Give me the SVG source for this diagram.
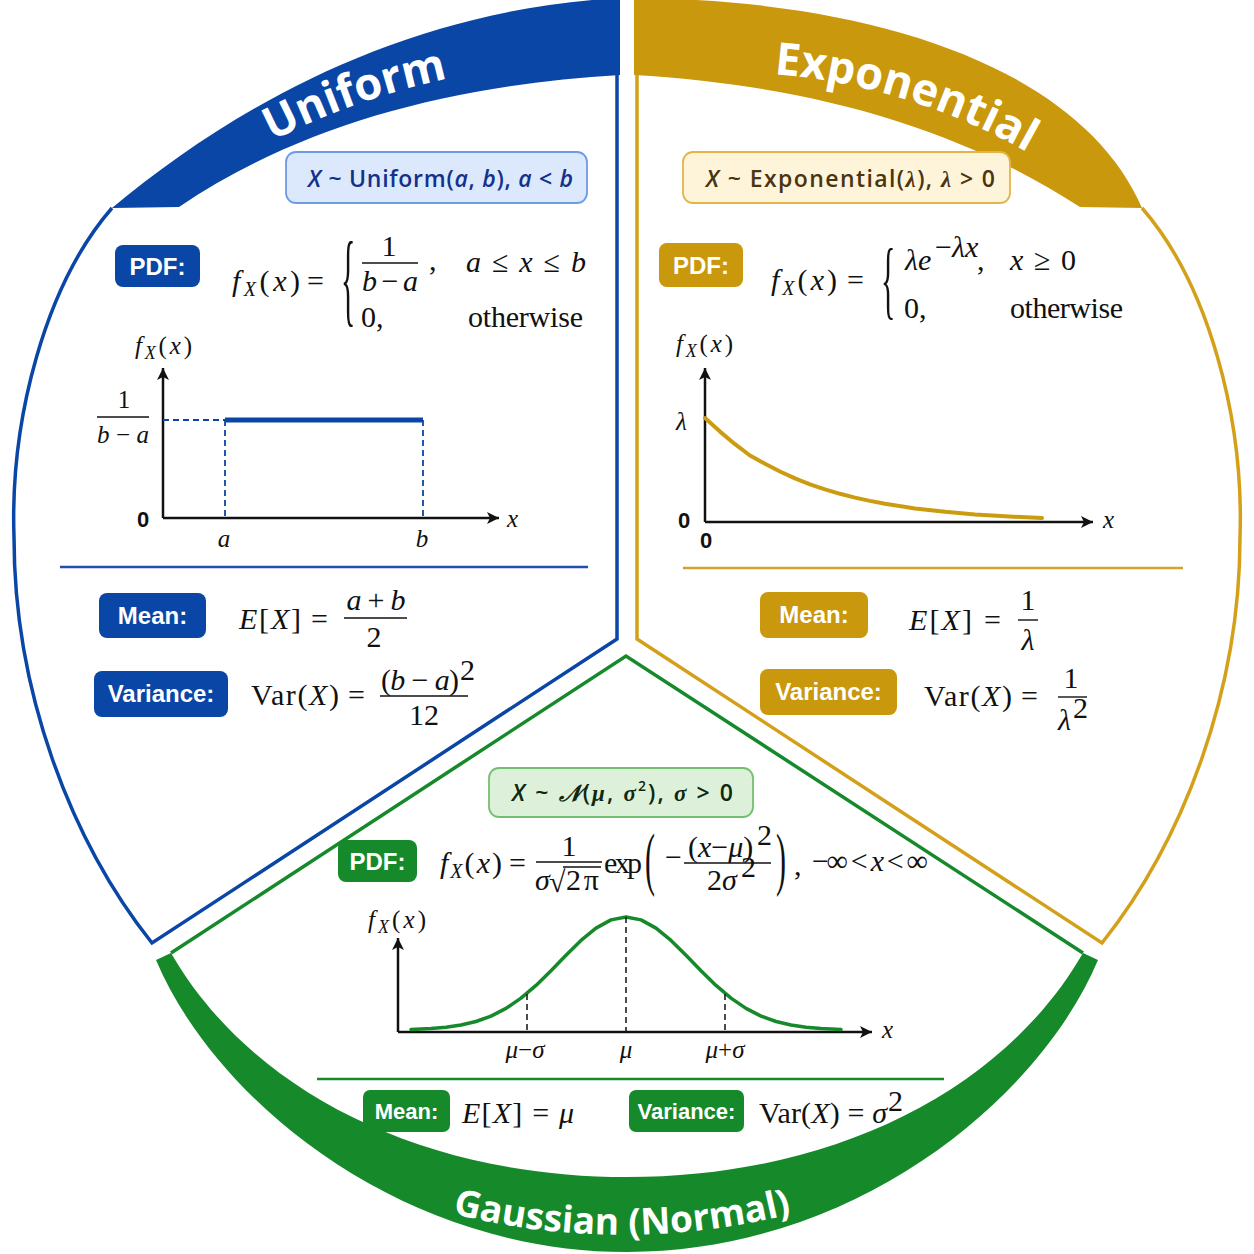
<svg xmlns="http://www.w3.org/2000/svg" width="1254" height="1254" viewBox="0 0 1254 1254">
<style>
.m{font-family:"Liberation Serif","DejaVu Serif",serif;font-size:30px;fill:#111}
.ms{font-family:"Liberation Serif","DejaVu Serif",serif;font-size:25px;fill:#111}
.i{font-style:italic}
.c{text-anchor:middle}
.lbl{font-family:"Liberation Sans",Arial,sans-serif;font-weight:bold;font-size:24px;fill:#fff;text-anchor:middle}
.lbl2{font-family:"Liberation Sans",Arial,sans-serif;font-weight:bold;font-size:22px;fill:#fff;text-anchor:middle}
.zero{font-family:"Liberation Sans",Arial,sans-serif;font-weight:bold;font-size:22px;fill:#111;text-anchor:middle}
.hdr{font-family:"Open Sans","Liberation Sans",sans-serif;font-weight:600;font-size:23px}
.title{font-family:"Open Sans","Liberation Sans",sans-serif;font-weight:700;fill:#fff;text-anchor:middle}
.ax{stroke:#111;stroke-width:2.5;fill:none;marker-end:url(#arr)}
.bar{stroke:#111;stroke-width:1.4}
.dash{stroke-dasharray:6 4;fill:none}
</style>
<defs>
<marker id="arr" viewBox="0 0 10 10" refX="10" refY="5" markerWidth="15" markerHeight="12" markerUnits="userSpaceOnUse" orient="auto">
<path d="M0,0 L10,5 L0,10 L2.5,5 Z" fill="#111"/>
</marker>
<path id="arcU" d="M 196.3 186.5 A 696 696 0 0 1 535.6 66.0"/>
<path id="arcE" d="M 736.3 72.1 A 614 614 0 0 1 1059.8 172.0"/>
<path id="arcG" d="M 384.7 1192.9 A 693.7 693.7 0 0 0 859.3 1192.9"/>
</defs>
<rect width="1254" height="1254" fill="#fff"/>

<!-- Uniform -->
<g id="uniform">
<path d="M 112 208 C 230 110, 400 10, 620 -2 L 620 75 C 450 85, 300 125, 179 207 Z" fill="#0A46A5"/>
<path d="M 112 208 C 45 285, 10 420, 14 537 C 14 690, 70 840, 152 943 L 617 639 L 617 75" fill="none" stroke="#0A46A5" stroke-width="3.5"/>
<text class="title" font-size="45"><textPath href="#arcU" startOffset="50%">Uniform</textPath></text>
<rect x="286" y="152" width="301" height="51" rx="10" fill="#DCE8FB" stroke="#6E9BE6" stroke-width="1.8"/>
<text class="hdr" x="308" y="187" fill="#13318C" textLength="265"><tspan font-style="italic">X</tspan> ~ Uniform(<tspan font-style="italic">a</tspan>, <tspan font-style="italic">b</tspan>), <tspan font-style="italic">a</tspan> &lt; <tspan font-style="italic">b</tspan></text>
<rect x="115" y="245" width="85" height="42" rx="8" fill="#0A46A5"/>
<text class="lbl" x="157.5" y="275">PDF:</text>
<text class="m" x="232" y="291" textLength="68"><tspan class="i">f</tspan><tspan class="i" font-size="20" dy="5">X</tspan><tspan dy="-5">(</tspan><tspan class="i">x</tspan>)</text>
<text class="m" x="307" y="291">=</text>
<text class="m" transform="translate(341,281.5) scale(1,3.45)" x="0" y="9" font-size="36">{</text>
<text class="m c" x="389" y="256">1</text>
<line class="bar" x1="362" y1="263" x2="418" y2="263"/>
<text class="m c" x="390" y="291" textLength="56"><tspan class="i">b</tspan> − <tspan class="i">a</tspan></text>
<text class="m" x="429" y="270">,</text>
<text class="m" x="466" y="272" textLength="120"><tspan class="i">a</tspan> ≤ <tspan class="i">x</tspan> ≤ <tspan class="i">b</tspan></text>
<text class="m" x="361" y="327">0,</text>
<text class="m" x="468" y="327" textLength="115">otherwise</text>
<text class="ms" x="135" y="354" textLength="57"><tspan class="i">f</tspan><tspan class="i" font-size="18" dy="5">X</tspan><tspan dy="-5">(</tspan><tspan class="i">x</tspan>)</text>
<line class="ax" x1="163" y1="518" x2="163" y2="368"/>
<line class="ax" x1="163" y1="518" x2="499" y2="518"/>
<text class="ms c" x="124" y="408">1</text>
<line class="bar" x1="97" y1="417" x2="149" y2="417"/>
<text class="ms c" x="123" y="443" textLength="52"><tspan class="i">b</tspan> − <tspan class="i">a</tspan></text>
<text class="zero" x="143" y="527">0</text>
<line class="dash" x1="163" y1="420" x2="225" y2="420" stroke="#0A46A5" stroke-width="1.8"/>
<line x1="225" y1="420" x2="423" y2="420" stroke="#0A46A5" stroke-width="5"/>
<line class="dash" x1="225" y1="420" x2="225" y2="518" stroke="#0A46A5" stroke-width="1.8"/>
<line class="dash" x1="423" y1="420" x2="423" y2="518" stroke="#0A46A5" stroke-width="1.8"/>
<text class="ms i c" x="224" y="547">a</text>
<text class="ms i c" x="422" y="547">b</text>
<text class="ms i" x="507" y="527">x</text>
<line x1="60" y1="567" x2="588" y2="567" stroke="#1F4FB0" stroke-width="2.5"/>
<rect x="99" y="593" width="107" height="45" rx="8" fill="#0A46A5"/>
<text class="lbl" x="152.5" y="624">Mean:</text>
<text class="m" x="239" y="629" textLength="62"><tspan class="i">E</tspan>[<tspan class="i">X</tspan>]</text>
<text class="m" x="311" y="629">=</text>
<text class="m c" x="376" y="610" textLength="59"><tspan class="i">a</tspan> + <tspan class="i">b</tspan></text>
<line class="bar" x1="344" y1="618" x2="407" y2="618"/>
<text class="m c" x="374" y="647">2</text>
<rect x="94" y="671" width="134" height="46" rx="8" fill="#0A46A5"/>
<text class="lbl" x="161" y="702">Variance:</text>
<text class="m" x="251" y="705" textLength="88">Var(<tspan class="i">X</tspan>)</text>
<text class="m" x="348" y="705">=</text>
<text class="m" x="381" y="690" textLength="78">(<tspan class="i">b</tspan> − <tspan class="i">a</tspan>)</text>
<text class="m" x="460" y="680" font-size="16">2</text>
<line class="bar" x1="380" y1="696" x2="468" y2="696"/>
<text class="m c" x="424" y="725">12</text>
</g>

<!-- Exponential -->
<g id="exponential">
<path d="M 1142 208 C 1085 75, 890 0, 634 -2 L 634 75 C 804 85, 954 125, 1080 207 Z" fill="#C9980C"/>
<path d="M 1142 208 C 1209 285, 1244 420, 1240 537 C 1240 690, 1184 840, 1102 943 L 637 639 L 637 75" fill="none" stroke="#D4A01A" stroke-width="3.5"/>
<text class="title" font-size="45"><textPath href="#arcE" startOffset="50%">Exponential</textPath></text>
<rect x="683" y="152" width="327" height="51" rx="10" fill="#FEF4DA" stroke="#E3B546" stroke-width="1.8"/>
<text class="hdr" x="706" y="187" fill="#4B3410" textLength="289"><tspan font-style="italic">X</tspan> ~ Exponential(<tspan font-family="Liberation Serif" font-style="italic">λ</tspan>),  <tspan font-family="Liberation Serif" font-style="italic">λ</tspan> &gt; 0</text>
<rect x="659" y="243" width="84" height="44" rx="8" fill="#C9980C"/>
<text class="lbl" x="701" y="274">PDF:</text>
<text class="m" x="771" y="290" textLength="66"><tspan class="i">f</tspan><tspan class="i" font-size="20" dy="5">X</tspan><tspan dy="-5">(</tspan><tspan class="i">x</tspan>)</text>
<text class="m" x="847" y="290">=</text>
<text class="m" transform="translate(881,282.5) scale(1,2.87)" x="0" y="9" font-size="36">{</text>
<text class="m i" x="905" y="270">λe</text>
<text class="m" x="935" y="257" font-size="18">−<tspan class="i">λx</tspan></text>
<text class="m" x="977" y="270">,</text>
<text class="m" x="1010" y="270" textLength="66"><tspan class="i">x</tspan> ≥ 0</text>
<text class="m" x="904" y="318">0,</text>
<text class="m" x="1010" y="318" textLength="113">otherwise</text>
<text class="ms" x="676" y="352" textLength="57"><tspan class="i">f</tspan><tspan class="i" font-size="18" dy="5">X</tspan><tspan dy="-5">(</tspan><tspan class="i">x</tspan>)</text>
<line class="ax" x1="705" y1="522" x2="705" y2="368"/>
<line class="ax" x1="705" y1="522" x2="1093" y2="522"/>
<text class="ms i" x="676" y="430">λ</text>
<text class="zero" x="684" y="528">0</text>
<text class="zero" x="706" y="548">0</text>
<text class="ms i" x="1103" y="528">x</text>
<path d="M705,418 L720,431.6 L735,444.2 L750,455.5 L765,463.8 L780,471.5 L795,478.4 L810,484.3 L825,489.4 L840,493.8 L855,497.6 L870,500.9 L885,503.8 L915,508.4 L945,511.8 L975,514.4 L1005,516.3 L1042,518" fill="none" stroke="#CC9C10" stroke-width="4" stroke-linejoin="round" stroke-linecap="round"/>
<line x1="683" y1="568" x2="1183" y2="568" stroke="#D4A32A" stroke-width="2.5"/>
<rect x="760" y="592" width="108" height="46" rx="8" fill="#C9980C"/>
<text class="lbl" x="814" y="623">Mean:</text>
<text class="m" x="909" y="630" textLength="63"><tspan class="i">E</tspan>[<tspan class="i">X</tspan>]</text>
<text class="m" x="984" y="630">=</text>
<text class="m c" x="1028" y="610">1</text>
<line class="bar" x1="1018" y1="620" x2="1038" y2="620"/>
<text class="m i c" x="1028" y="650">λ</text>
<rect x="760" y="669" width="137" height="46" rx="8" fill="#C9980C"/>
<text class="lbl" x="828.5" y="700">Variance:</text>
<text class="m" x="924" y="706" textLength="88">Var(<tspan class="i">X</tspan>)</text>
<text class="m" x="1021" y="706">=</text>
<text class="m c" x="1071" y="688">1</text>
<line class="bar" x1="1058" y1="697" x2="1087" y2="697"/>
<text class="m i" x="1058" y="730">λ</text>
<text class="m" x="1073" y="718" font-size="16">2</text>
</g>

<!-- Gaussian -->
<g id="gaussian">
<path d="M 156 960 C 215 1100, 400 1252, 627 1252 C 854 1252, 1039 1100, 1098 960 L 1083 953 C 1004 1090, 834 1177, 627 1177 C 420 1177, 250 1090, 171 953 Z" fill="#168A2A"/>
<path d="M 171 953 L 626 656 L 1083 953" fill="none" stroke="#168A2A" stroke-width="3.5"/>
<text class="title" font-size="37"><textPath href="#arcG" startOffset="50%">Gaussian (Normal)</textPath></text>
<rect x="489" y="768" width="264" height="49" rx="10" fill="#DDF1DA" stroke="#74BF6F" stroke-width="1.8"/>
<text class="hdr" x="512" y="801" fill="#102810" textLength="221"><tspan font-style="italic">X</tspan> ~ <tspan font-family="DejaVu Serif,Noto Sans,serif" font-style="italic">𝒩</tspan>(<tspan font-family="Liberation Serif" font-style="italic">μ</tspan>, <tspan font-family="Liberation Serif" font-style="italic">σ</tspan><tspan font-size="14" dy="-10">2</tspan><tspan dy="10">), </tspan><tspan font-family="Liberation Serif" font-style="italic">σ</tspan> &gt; 0</text>
<rect x="338" y="840" width="79" height="42" rx="8" fill="#168A2A"/>
<text class="lbl" x="377.5" y="870">PDF:</text>
<text class="m" x="440" y="873" textLength="62"><tspan class="i">f</tspan><tspan class="i" font-size="20" dy="5">X</tspan><tspan dy="-5">(</tspan><tspan class="i">x</tspan>)</text>
<text class="m" x="509" y="873">=</text>
<text class="m c" x="569" y="856">1</text>
<line class="bar" x1="536" y1="862" x2="602" y2="862"/>
<text class="m i" x="535" y="890">σ</text>
<text class="m" x="549" y="892">√</text>
<line class="bar" x1="563" y1="867" x2="601" y2="867"/>
<text class="m" x="566" y="890" textLength="33">2π</text>
<text class="m" x="604" y="873" textLength="38">exp</text>
<text class="m" transform="translate(645,865) scale(1,2.3)" x="0" y="7.5" font-size="30">(</text>
<text class="m" x="665" y="867">−</text>
<text class="m" x="688" y="857" font-size="25">(<tspan class="i">x</tspan>−<tspan class="i">μ</tspan>)</text>
<text class="m" x="757" y="845" font-size="14">2</text>
<line class="bar" x1="684" y1="863" x2="771" y2="863"/>
<text class="m" x="707" y="890" font-size="26">2<tspan class="i">σ</tspan></text>
<text class="m" x="741" y="877" font-size="14">2</text>
<text class="m" transform="translate(776,865) scale(1,2.3)" x="0" y="7.5" font-size="30">)</text>
<text class="m" x="794" y="875">,</text>
<text class="m" x="812" y="871" font-size="22" textLength="116">−∞ &lt; <tspan class="i">x</tspan> &lt; ∞</text>
<text class="ms" x="368" y="928" textLength="58"><tspan class="i">f</tspan><tspan class="i" font-size="18" dy="5">X</tspan><tspan dy="-5">(</tspan><tspan class="i">x</tspan>)</text>
<line class="ax" x1="398" y1="1032" x2="398" y2="938"/>
<line class="ax" x1="398" y1="1032" x2="872" y2="1032"/>
<text class="ms i" x="882" y="1038">x</text>
<path d="M411,1029.4 L431,1028.6 L446,1027.3 L461,1025 L476,1021.5 L491,1016.1 L506,1008.4 L521,998.1 L536,985.4 L551,970.8 L566,955.3 L581,940.4 L596,928.1 L611,919.9 L626,917 L641,919.9 L656,928.1 L671,940.4 L686,955.3 L701,970.8 L716,985.4 L731,998.1 L746,1008.4 L761,1016.1 L776,1021.5 L791,1025 L806,1027.3 L821,1028.6 L841,1029.4" fill="none" stroke="#168A2A" stroke-width="3.5" stroke-linejoin="round" stroke-linecap="round"/>
<line class="dash" x1="626" y1="917" x2="626" y2="1032" stroke="#111" stroke-width="1.5"/>
<line class="dash" x1="527" y1="994" x2="527" y2="1032" stroke="#111" stroke-width="1.5"/>
<line class="dash" x1="725" y1="994" x2="725" y2="1032" stroke="#111" stroke-width="1.5"/>
<text class="ms c" x="525" y="1058" font-size="22"><tspan class="i">μ</tspan>−<tspan class="i">σ</tspan></text>
<text class="ms c i" x="626" y="1058" font-size="22">μ</text>
<text class="ms c" x="725" y="1058" font-size="22"><tspan class="i">μ</tspan>+<tspan class="i">σ</tspan></text>
<line x1="317" y1="1079" x2="944" y2="1079" stroke="#168A2A" stroke-width="2.5"/>
<rect x="363" y="1090" width="87" height="42" rx="7" fill="#168A2A"/>
<text class="lbl2" x="406.5" y="1119">Mean:</text>
<text class="m" x="462" y="1123" textLength="112"><tspan class="i">E</tspan>[<tspan class="i">X</tspan>] = <tspan class="i">μ</tspan></text>
<rect x="629" y="1090" width="115" height="42" rx="7" fill="#168A2A"/>
<text class="lbl2" x="686.5" y="1119">Variance:</text>
<text class="m" x="759" y="1123" textLength="128">Var(<tspan class="i">X</tspan>) = <tspan class="i">σ</tspan></text>
<text class="m" x="888" y="1111" font-size="15">2</text>
</g>
</svg>
